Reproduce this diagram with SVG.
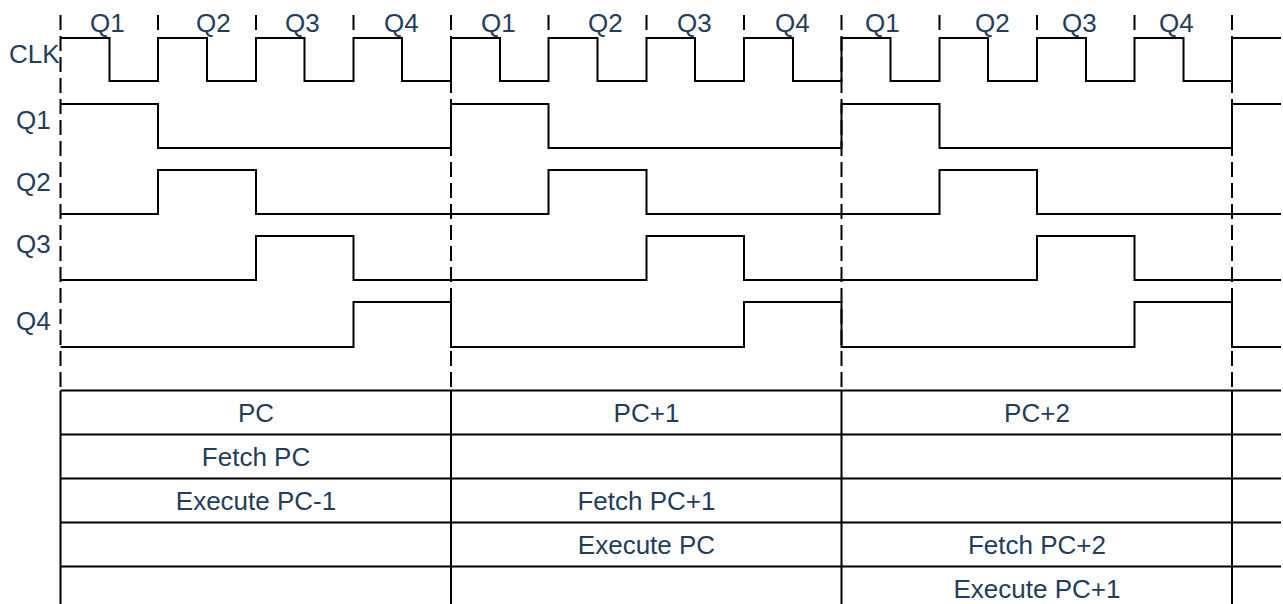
<svg xmlns="http://www.w3.org/2000/svg" width="1283" height="604" viewBox="0 0 1283 604">
<style>
.t{font-family:"Liberation Sans",Arial,sans-serif;font-size:26px;fill:#233D5C}
.c{text-anchor:middle}
.sig{fill:none;stroke:#000;stroke-width:2}
.dash{fill:none;stroke:#000;stroke-width:2;stroke-dasharray:15 6}
.grid{fill:none;stroke:#000;stroke-width:2}
</style>
<rect width="1283" height="604" fill="#fff"/>
<g id="connectors">
<g id="dashed-boundaries">
<path class="dash" d="M60.5,15V390.5M451,15V390.5M841.5,15V390.5M1232,15V390.5"/>
<path class="sig" d="M158,15V30M256,15V30M353.5,15V30M548.5,15V30M646.5,15V30M744,15V30M939.5,15V30M1037,15V30M1134.5,15V30"/>
</g>
</g>
<g id="top-labels">
<text class="t" x="90" y="32">Q1</text>
<text class="t" x="196" y="32">Q2</text>
<text class="t" x="285" y="32">Q3</text>
<text class="t" x="384" y="32">Q4</text>
<text class="t" x="481" y="32">Q1</text>
<text class="t" x="588" y="32">Q2</text>
<text class="t" x="677" y="32">Q3</text>
<text class="t" x="775" y="32">Q4</text>
<text class="t" x="865" y="32">Q1</text>
<text class="t" x="975" y="32">Q2</text>
<text class="t" x="1062" y="32">Q3</text>
<text class="t" x="1159" y="32">Q4</text>
</g>
<g id="sig-clk">
<text class="t" x="9" y="63">CLK</text>
<path class="sig" d="M60.5,38H109.5V81H158V38H207V81H256V38H304.5V81H353.5V38H402V81H451V38H500V81H548.5V38H597.5V81H646.5V38H695V81H744V38H793V81H841.5V38H890.5V81H939.5V38H988V81H1037V38H1086V81H1134.5V38H1183.5V81H1232V38H1281"/>
</g>
<g id="sig-q1">
<text class="t" x="16" y="129">Q1</text>
<path class="sig" d="M60.5,104H158V148H451V104H548.5V148H841.5V104H939.5V148H1232V104H1281"/>
</g>
<g id="sig-q2">
<text class="t" x="16" y="191">Q2</text>
<path class="sig" d="M60.5,214H158V170H256V214H548.5V170H646.5V214H939.5V170H1037V214H1281"/>
</g>
<g id="sig-q3">
<text class="t" x="16" y="253">Q3</text>
<path class="sig" d="M60.5,280H256V236H353.5V280H646.5V236H744V280H1037V236H1134.5V280H1281"/>
</g>
<g id="sig-q4">
<text class="t" x="16" y="330">Q4</text>
<path class="sig" d="M60.5,347H353.5V302H451V347H744V302H841.5V347H1134.5V302H1232V347H1281"/>
</g>
<g id="table">
<path class="grid" d="M60.5,390.5H1281M60.5,434.5H1281M60.5,478.5H1281M60.5,522.5H1281M60.5,566.5H1281M60.5,390.5V604M451,390.5V604M841.5,390.5V604M1232,390.5V604"/>
<g id="row-pc">
<text class="t c" x="256" y="421.5">PC</text>
<text class="t c" x="646.5" y="421.5">PC+1</text>
<text class="t c" x="1037" y="421.5">PC+2</text>
</g>
<g id="row-2">
<text class="t c" x="256" y="465.5">Fetch PC</text>
</g>
<g id="row-3">
<text class="t c" x="256" y="509.5">Execute PC-1</text>
<text class="t c" x="646.5" y="509.5">Fetch PC+1</text>
</g>
<g id="row-4">
<text class="t c" x="646.5" y="553.5">Execute PC</text>
<text class="t c" x="1037" y="553.5">Fetch PC+2</text>
</g>
<g id="row-5">
<text class="t c" x="1037" y="597.5">Execute PC+1</text>
</g>
</g>
</svg>
